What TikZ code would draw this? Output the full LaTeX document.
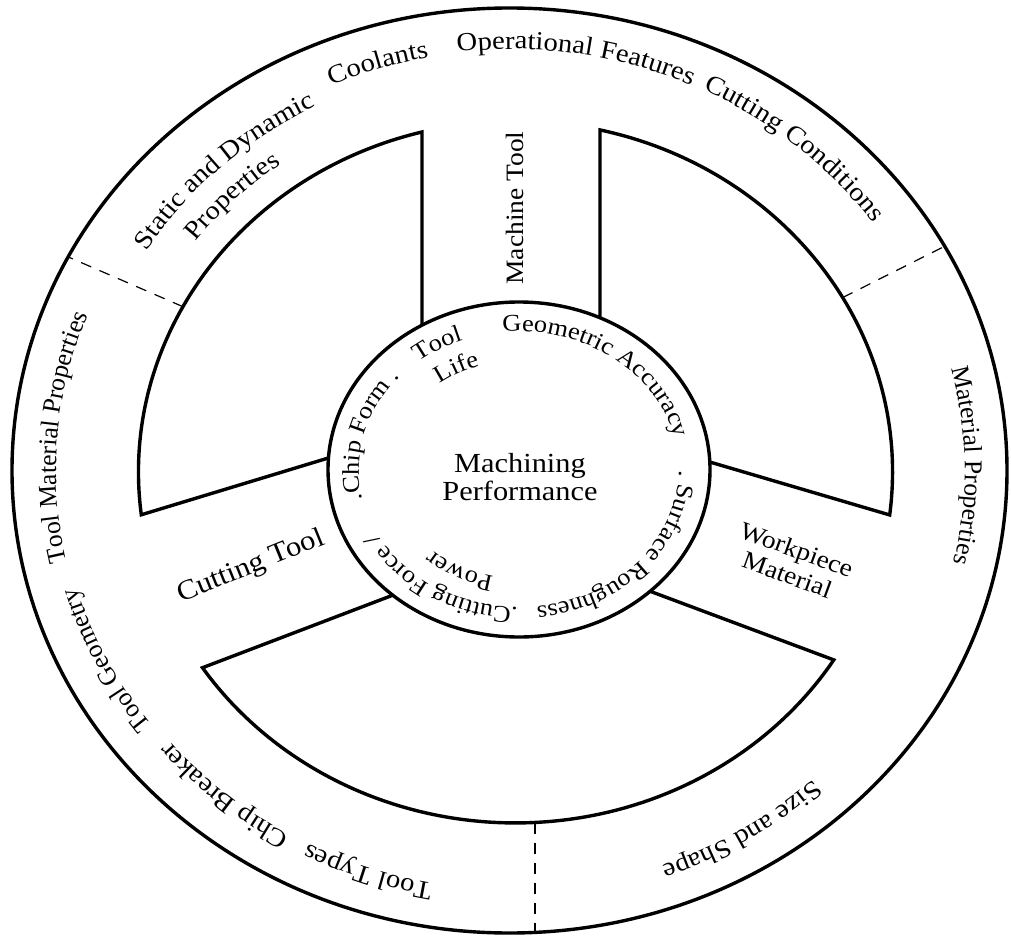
\documentclass[tikz,border=0pt]{standalone}
\usepackage{fontspec}
\setmainfont{Liberation Serif}[FakeStretch=1.1]
\newfontfamily\plainserif{Liberation Serif}
\usetikzlibrary{calc,decorations.text}

% type sizes: rim lettering across the top/bottom, down the sides, and the hub
\newcommand\ringfont{\fontsize{13}{15}\selectfont}
\newcommand\sidefont{\plainserif\fontsize{12.8}{15}\selectfont}
\newcommand\hubfont{\fontsize{12}{14}\selectfont}

% text set along a clockwise elliptical arc:
% #1 centre, #2 middle angle, #3 half span, #4 x radius, #5 y radius, #6 text
\newcommand\ringlabel[6]{%
  \pgfmathsetmacro\rlA{#2+#3}\pgfmathsetmacro\rlB{#2-#3}%
  \path[decorate,decoration={text along path,text align=center,text={#6}}]
    ($(#1)+(\rlA:#4 and #5)$) arc[start angle=\rlA,end angle=\rlB,x radius=#4,y radius=#5];}

\begin{document}
\begin{tikzpicture}[x=0.5pt,y=0.5pt,
  wall/.style={line width=1.7pt,line join=miter},
  divider/.style={line width=0.6pt,dash pattern=on 5.5pt off 4.5pt},
  spoke/.style={font=\fontsize{12.5}{13.5}\selectfont,inner sep=0pt},
]
\fill[white] (0,0) rectangle (1011,-936);
\useasboundingbox (0,0) rectangle (1011,-936);

% centres of the outer rim, the block arcs, the hub and the rim lettering
\coordinate (c0) at (509.5,-470.5);
\coordinate (c1) at (515.5,-472);
\coordinate (c2) at (519,-469.5);
\coordinate (ct) at (511,-470);

% outer rim
\draw[wall] (c0) ellipse[x radius=497.5,y radius=462.5];

% three blocks between the spokes (their inner ends are hidden by the hub)
\draw[wall] (422,-360) -- (422,-131.97)
  arc[start angle=104.36,end angle=187,x radius=377,y radius=351]
  -- (360,-448.4) -- cycle;
\draw[wall] (600,-360) -- (600,-129.93)
  arc[start angle=77.05,end angle=-7.03,x radius=377,y radius=351]
  -- (670,-450.3) -- cycle;
\draw[wall] (430,-581) -- (202.5,-667.7)
  arc[start angle=213.9,end angle=327.62,x radius=377,y radius=351]
  -- (610,-576.3) -- cycle;

% dashed dividers in the rim
\draw[divider] ($(c1)+(151.9:377 and 351)$) -- ($(c0)+(152.5:497.5 and 462.5)$);
\draw[divider] ($(c1)+(29.8:377 and 351)$) -- ($(c0)+(29:497.5 and 462.5)$);
\draw[divider] (535,-822.5) -- (535,-932.4);

% hub
\draw[wall,fill=white] (c2) ellipse[x radius=191,y radius=167.5];

% hub and spoke captions
\node[font=\fontsize{13.8}{13.8}\selectfont,align=center,inner sep=0pt] (perf) at (520,-477) {Machining\\Performance};
\node[spoke,rotate=90] (machine) at (515,-208) {Machine Tool};
\node[spoke,rotate=22,font=\fontsize{14}{14}\selectfont] (cutting) at (251,-567) {Cutting Tool};
\node[spoke,rotate=-20,align=center] (work) at (792,-562) {Workpiece\\Material};

% rim lettering
\ringlabel{ct}{132.5}{30}{432}{408}{|\ringfont|Static and Dynamic}
\ringlabel{ct}{134.1}{25}{398}{375}{|\ringfont|Properties}
\ringlabel{ct}{107.3}{20}{445}{420}{|\ringfont|Coolants}
\ringlabel{ct}{81.4}{30}{445}{421}{|\ringfont|Operational Features}
\ringlabel{ct}{49.9}{30}{447}{421}{|\ringfont|Cutting Conditions}
\ringlabel{ct}{0.6}{30}{454}{420}{|\sidefont|Material Properties}
\ringlabel{ct}{301.4}{28}{447}{420}{|\ringfont|Size and Shape}
\ringlabel{ct}{251.3}{20}{445}{420}{|\ringfont|Tool Types}
\ringlabel{ct}{230.1}{22}{447}{420}{|\ringfont|Chip Breaker}
\ringlabel{ct}{206.5}{25}{452}{420}{|\sidefont|Tool Geometry}
\ringlabel{ct}{175.6}{35}{455}{420}{|\sidefont|Tool Material Properties}

% hub lettering
\ringlabel{c2}{53.5}{55}{160}{138}{|\hubfont|Geometric Accuracy}
\ringlabel{c2}{-40.7}{60}{160}{138}{|\hubfont|. Surface Roughness}
\ringlabel{c2}{237.3}{50}{160}{138}{|\hubfont|.Cutting Force /}
\ringlabel{c2}{165.7}{45}{160}{138}{|\hubfont|.Chip Form .}
\ringlabel{c2}{120}{20}{160}{138}{|\hubfont|Tool}
\ringlabel{c2}{118.4}{22}{128}{109}{|\hubfont|Life}
\ringlabel{c2}{242.4}{30}{128}{109}{|\hubfont|Power}
\end{tikzpicture}
\end{document}
